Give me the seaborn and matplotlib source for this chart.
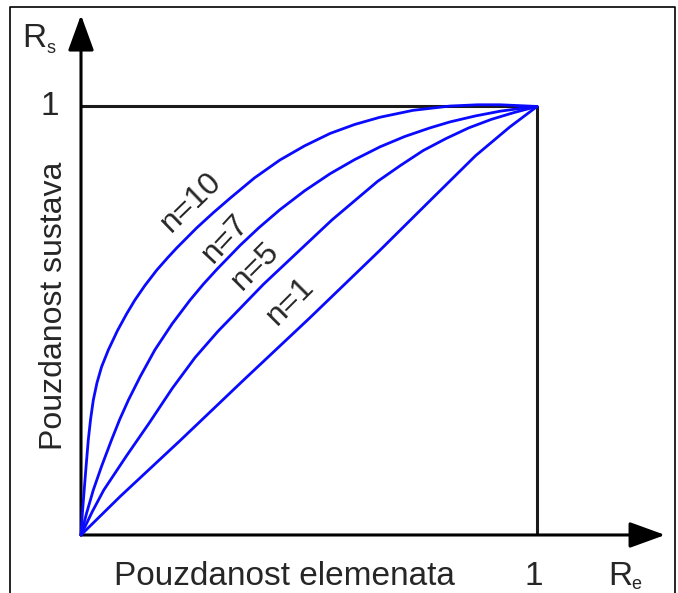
import numpy as np
import pandas as pd
import matplotlib
matplotlib.use("Agg")
import matplotlib.pyplot as plt
from matplotlib.lines import Line2D
import seaborn as sns

# Reliability of a parallel system vs element reliability
re_n10 = [0, 0.003, 0.007, 0.011, 0.016, 0.021, 0.027, 0.035, 0.045, 0.060, 0.080, 0.100, 0.118, 0.140,
          0.166, 0.190, 0.210, 0.254, 0.290, 0.327, 0.380, 0.436, 0.490, 0.546, 0.600, 0.656, 0.728,
          0.809, 0.870, 0.919, 0.960, 1.0]
rs_n10 = [0, 0.050, 0.105, 0.158, 0.222, 0.270, 0.315, 0.355, 0.392, 0.432, 0.477, 0.516, 0.548, 0.582,
          0.618, 0.647, 0.670, 0.717, 0.752, 0.786, 0.833, 0.875, 0.908, 0.937, 0.958, 0.975, 0.991,
          1.001, 1.004, 1.004, 1.002, 1.0]

re_n7 = [0, 0.012, 0.027, 0.045, 0.067, 0.085, 0.104, 0.130, 0.162, 0.200, 0.239, 0.268, 0.298, 0.349,
         0.390, 0.436, 0.490, 0.546, 0.600, 0.656, 0.710, 0.765, 0.809, 0.865, 0.919, 0.960, 1.0]
rs_n7 = [0, 0.050, 0.105, 0.160, 0.222, 0.270, 0.315, 0.370, 0.432, 0.493, 0.548, 0.585, 0.620, 0.676,
         0.717, 0.759, 0.803, 0.843, 0.876, 0.906, 0.930, 0.950, 0.964, 0.978, 0.989, 0.995, 1.0]

re_n5 = [0, 0.025, 0.050, 0.100, 0.150, 0.200, 0.250, 0.300, 0.350, 0.400, 0.450, 0.500, 0.550, 0.600,
         0.650, 0.700, 0.750, 0.800, 0.850, 0.900, 0.950, 1.0]
rs_n5 = [0, 0.055, 0.105, 0.185, 0.262, 0.342, 0.414, 0.475, 0.530, 0.585, 0.635, 0.685, 0.735, 0.780,
         0.825, 0.862, 0.897, 0.925, 0.950, 0.970, 0.986, 1.0]

re_n1 = [0, 0.086, 0.217, 0.355, 0.500, 0.656, 0.765, 0.865, 0.940, 1.0]
rs_n1 = [0, 0.090, 0.220, 0.360, 0.505, 0.665, 0.780, 0.885, 0.952, 1.0]

n_labels = ["n=10", "n=7", "n=5", "n=1"]
label_pos = [(0.241, 0.777, 44), (0.316, 0.691, 47), (0.382, 0.628, 45), (0.458, 0.546, 45)]

frames = []
for lab, xs, ys in zip(n_labels, [re_n10, re_n7, re_n5, re_n1], [rs_n10, rs_n7, rs_n5, rs_n1]):
    frames.append(pd.DataFrame({"Re": xs, "Rs": ys, "n": lab}))
df = pd.concat(frames, ignore_index=True)

sns.set_theme(style="white")
plt.rcParams["font.family"] = ["Liberation Sans", "DejaVu Sans"]

fig = plt.figure(figsize=(6.78, 5.93), dpi=100)
ax = fig.add_axes([0, 0, 1, 1])
ax.set_xlim(-0.1776, 1.309)
ax.set_ylim(-0.1354, 1.2485)
ax.axis("off")

# outer frame (bottom edge is cut off in the original)
fig.add_artist(Line2D([0.0147, 0.0147, 0.9956, 0.9956], [-0.1, 0.988, 0.988, -0.1],
                      transform=fig.transFigure, color="black", lw=1.2))

black = "#1a1a1a"
# unit box
ax.hlines(1, 0, 1, color=black, lw=2.2, zorder=1)
ax.vlines(1, 0, 1, color=black, lw=2.2, zorder=1)

# axes with arrows
arrow = dict(arrowstyle="-|>,head_length=1.1,head_width=0.4", mutation_scale=20,
             color="black", lw=2.2, shrinkA=0, shrinkB=0)
ax.annotate("", xy=(1.2807, 0), xytext=(0, 0), arrowprops=arrow, zorder=1)
ax.annotate("", xy=(0, 1.2135), xytext=(0, 0), arrowprops=arrow, zorder=1)

sns.lineplot(data=df, x="Re", y="Rs", hue="n", palette=["#0a0aff"] * 4,
             sort=False, estimator=None, units="n", legend=False, lw=2.0, ax=ax, zorder=3,
             solid_joinstyle="round", solid_capstyle="round")

tc = "#262626"
fs = 24
for lab, (x, y, rot) in zip(n_labels, label_pos):
    ax.text(x, y, lab, rotation=rot, ha="center", va="center", fontsize=23, color=tc,
            rotation_mode="anchor")

ax.text(-0.068, 0.98, "1", ha="center", va="baseline", fontsize=fs, color=tc)
ax.text(0.993, -0.1167, "1", ha="center", va="baseline", fontsize=fs, color=tc)
ax.text(0.445, -0.1167, "Pouzdanost elemenata", ha="center", va="baseline", fontsize=fs, color=tc)
ax.text(-0.059, 0.534, "Pouzdanost sustava", rotation=90, ha="center", va="center", fontsize=23, color=tc)

# axis symbols with small subscripts
ax.text(-0.129, 1.139, "R", ha="left", va="baseline", fontsize=fs, color=tc)
ax.text(-0.075, 1.125, "s", ha="left", va="baseline", fontsize=13, color=tc)
ax.text(1.156, -0.1167, "R", ha="left", va="baseline", fontsize=fs, color=tc)
ax.text(1.206, -0.127, "e", ha="left", va="baseline", fontsize=13, color=tc)

fig.savefig("out.png", dpi=100)
